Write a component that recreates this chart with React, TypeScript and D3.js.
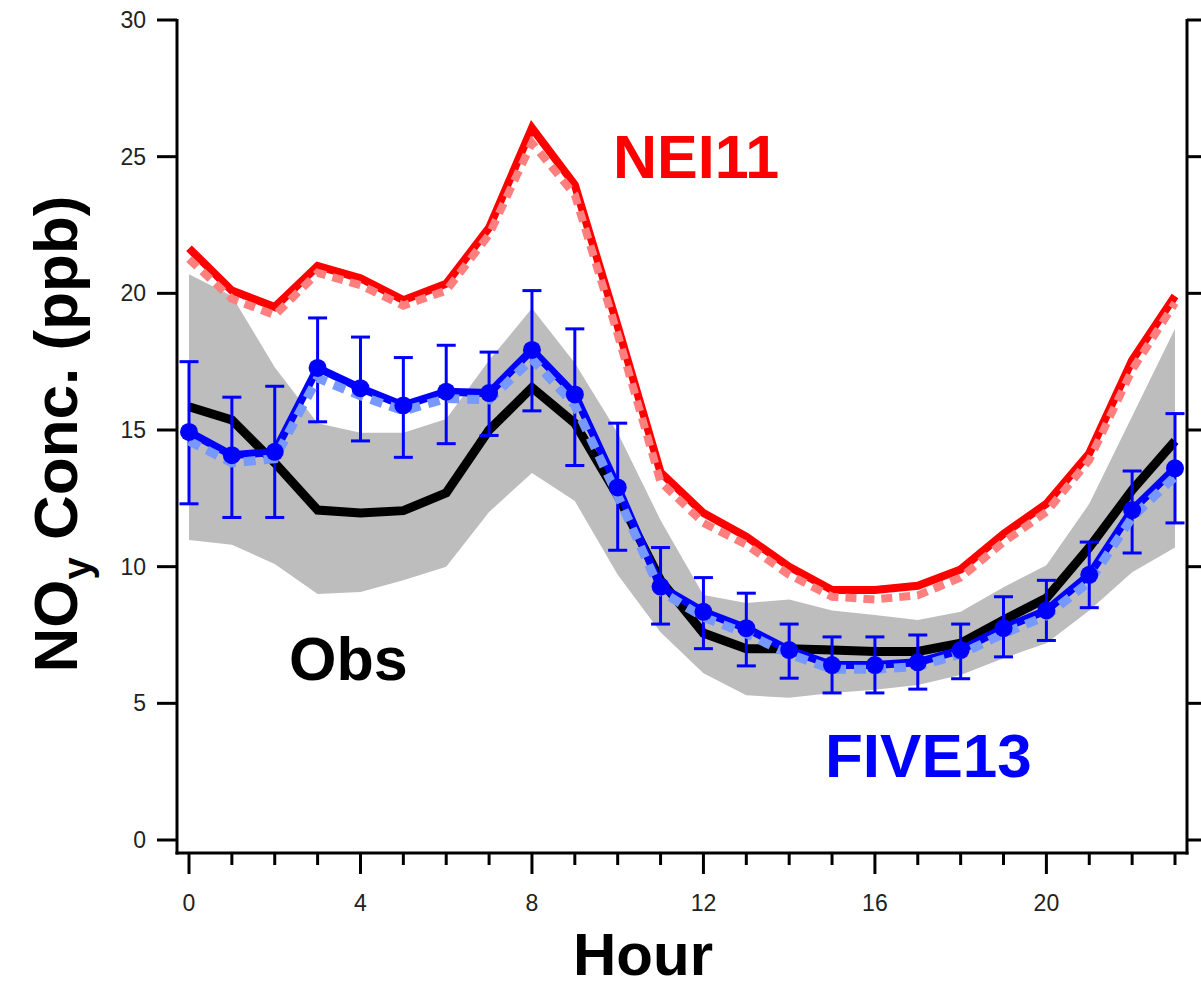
import React from "react";
import * as d3 from "d3";

const hours = d3.range(0, 24);

const nei11 = [21.65, 20.1, 19.5, 21.0, 20.55, 19.75, 20.35, 22.4, 26.05, 23.97, 18.8, 13.45, 11.96, 11.1, 10.0, 9.15, 9.15, 9.3, 9.9, 11.2, 12.3, 14.15, 17.55, 19.9];
const nei11Dash = [21.25, 19.8, 19.2, 20.75, 20.3, 19.55, 20.1, 22.15, 25.5, 23.6, 18.5, 13.1, 11.6, 10.8, 9.7, 8.9, 8.8, 8.95, 9.6, 10.9, 12.0, 13.9, 17.2, 19.65];
const obs = [15.85, 15.37, 13.8, 12.07, 11.96, 12.05, 12.7, 15.0, 16.55, 15.25, 12.6, 9.5, 7.57, 7.0, 7.0, 6.95, 6.9, 6.9, 7.2, 8.05, 8.85, 10.7, 12.8, 14.6];
const obsUpper = [20.7, 19.9, 17.3, 15.25, 14.9, 14.9, 15.4, 17.55, 19.45, 17.45, 14.9, 11.7, 8.96, 8.67, 8.8, 8.4, 8.23, 8.05, 8.35, 9.25, 10.05, 12.3, 15.5, 18.7];
const obsLower = [10.98, 10.8, 10.1, 9.0, 9.07, 9.5, 10.0, 12.0, 13.43, 12.4, 9.7, 7.6, 6.1, 5.3, 5.2, 5.38, 5.5, 5.67, 6.04, 6.65, 7.2, 8.4, 9.8, 10.7];
const five13 = [14.93, 14.08, 14.2, 17.27, 16.53, 15.9, 16.4, 16.35, 17.93, 16.3, 12.9, 9.27, 8.35, 7.75, 6.95, 6.4, 6.4, 6.5, 6.95, 7.75, 8.4, 9.7, 12.07, 13.6];
const five13Hi = [17.5, 16.2, 16.6, 19.1, 18.4, 17.65, 18.1, 17.85, 20.1, 18.7, 15.25, 10.7, 9.6, 9.03, 7.9, 7.43, 7.43, 7.5, 7.9, 8.9, 9.5, 10.9, 13.5, 15.6];
const five13Lo = [12.3, 11.8, 11.8, 15.3, 14.6, 14.0, 14.5, 14.8, 15.7, 13.7, 10.6, 7.9, 7.0, 6.37, 5.92, 5.38, 5.38, 5.52, 5.9, 6.7, 7.3, 8.5, 10.5, 11.6];
const five13Dash = [14.6, 13.8, 13.95, 16.9, 16.25, 15.7, 16.15, 16.1, 17.6, 15.9, 12.6, 9.1, 8.15, 7.55, 6.8, 6.25, 6.25, 6.35, 6.8, 7.55, 8.2, 9.45, 11.8, 13.3];

const yTicks = [0, 5, 10, 15, 20, 25, 30];
const xMajor = [0, 4, 8, 12, 16, 20];
const xMinor = d3.range(0, 24);

const FONT = "'Liberation Sans', Arial, Helvetica, sans-serif";

export default function App() {
  const W = 1201, H = 990;
  const x = d3.scaleLinear().domain([0, 23]).range([189, 1175]);
  const y = d3.scaleLinear().domain([0, 30]).range([840, 20]);
  const axL = 177, axR = 1187, axB = 853, axT = 19;

  const line = (vals: number[]) =>
    d3.line<number>().x((_, i) => x(hours[i])).y((d) => y(d))(vals) || "";
  const area =
    d3.area<number>()
      .x((_, i) => x(hours[i]))
      .y0((_, i) => y(obsLower[i]))
      .y1((d) => y(d))(obsUpper) || "";

  return (
    <svg width={W} height={H} style={{ position: "absolute", left: 0, top: 0, background: "#fff" }}>
      <rect x={0} y={0} width={W} height={H} fill="#fff" />
      <path d={area} fill="#bdbdbd" />
      <path d={line(obs)} fill="none" stroke="#000" strokeWidth={9} />
      <path d={line(nei11)} fill="none" stroke="#ff0000" strokeWidth={8} />
      <path d={line(nei11Dash)} fill="none" stroke="#ff7f7f" strokeWidth={8} strokeDasharray="11 7" />
      <path d={line(five13)} fill="none" stroke="#0000ff" strokeWidth={8} />
      {hours.map((h, i) => (
        <g key={"eb" + h} stroke="#0000ff" strokeWidth={3}>
          <line x1={x(h)} x2={x(h)} y1={y(five13Hi[i])} y2={y(five13Lo[i])} />
          <line x1={x(h) - 9.5} x2={x(h) + 9.5} y1={y(five13Hi[i])} y2={y(five13Hi[i])} />
          <line x1={x(h) - 9.5} x2={x(h) + 9.5} y1={y(five13Lo[i])} y2={y(five13Lo[i])} />
        </g>
      ))}
      <path d={line(five13Dash)} fill="none" stroke="#7799ff" strokeWidth={9} strokeDasharray="12 8" />
      {hours.map((h, i) => (
        <circle key={"m" + h} cx={x(h)} cy={y(five13[i])} r={9} fill="#0000ff" />
      ))}

      {/* axes */}
      <g stroke="#000" strokeWidth={3} fill="none">
        <line x1={axL} x2={axL} y1={axT} y2={axB + 1.5} />
        <line x1={axR} x2={axR} y1={axT} y2={axB + 1.5} />
        <line x1={axL - 1.5} x2={axR + 1.5} y1={axB} y2={axB} />
        {yTicks.map((t) => (
          <g key={"yt" + t}>
            <line x1={axL - 20} x2={axL} y1={y(t)} y2={y(t)} />
            <line x1={axR} x2={axR + 20} y1={y(t)} y2={y(t)} />
          </g>
        ))}
        {xMinor.map((t) => (
          <line key={"xm" + t} x1={x(t)} x2={x(t)} y1={axB} y2={xMajor.includes(t) ? axB + 21 : axB + 12} />
        ))}
      </g>
      <g fontFamily={FONT} fontSize={23} fill="#222">
        {yTicks.map((t) => (
          <text key={"yl" + t} x={146} y={y(t) + 8} textAnchor="end">{t}</text>
        ))}
        {xMajor.map((t) => (
          <text key={"xl" + t} x={x(t)} y={911} textAnchor="middle">{t}</text>
        ))}
      </g>

      <text x={643} y={975} textAnchor="middle" fontFamily={FONT} fontWeight="bold" fontSize={60} fill="#000">Hour</text>
      <text transform={`translate(77,434) rotate(-90)`} textAnchor="middle" fontFamily={FONT} fontWeight="bold" fontSize={62} fill="#000">
        NO<tspan fontSize={40} dy={14}>y</tspan><tspan dy={-14}> Conc. (ppb)</tspan>
      </text>

      <text x={613} y={178} fontFamily={FONT} fontWeight="bold" fontSize={61} fill="#ff0000">NEI11</text>
      <text x={289} y={680} fontFamily={FONT} fontWeight="bold" fontSize={61} fill="#000">Obs</text>
      <text x={825} y={777} fontFamily={FONT} fontWeight="bold" fontSize={62} fill="#0000ff">FIVE13</text>
    </svg>
  );
}
